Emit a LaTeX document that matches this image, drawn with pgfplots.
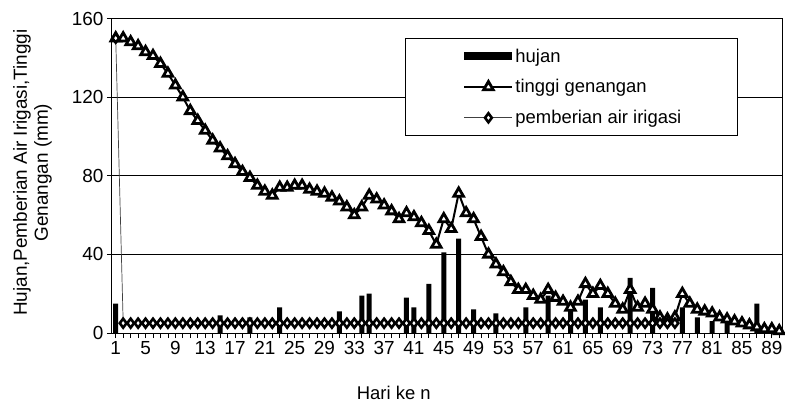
\documentclass[border=0pt]{standalone}
\usepackage{fontspec}
\setmainfont{Liberation Sans}
\usepackage{pgfplots}
\pgfplotsset{compat=1.18}
\pgfplotsset{
  mylegline/.style={legend image code/.code={\path (0bp,0bp); \draw[mark repeat=2, mark phase=2, ##1] plot coordinates {(56bp,0bp) (80bp,0bp) (104bp,0bp)};}},
  mylegbar/.style={legend image code/.code={\path (0bp,0bp); \fill[black] (56bp,-4bp) rectangle (104bp,4bp);}},
}
\begin{document}
\begin{tikzpicture}
\begin{axis}[
  scale only axis, width=671bp, height=314.5bp,
  xmin=0.5, xmax=90.5, ymin=0, ymax=160,
  ytick={0,40,80,120,160},
  xtick={1,5,...,89},
  minor xtick={1,...,90},
  tick align=outside,
  major tick length=5bp, minor tick length=5bp,
  ymajorgrids, grid style={black, line width=0.8bp},
  axis line style={black, line width=1bp},
  tick style={black, line width=0.8bp},
  xtick pos=bottom, ytick pos=left,
  /pgf/number format/assume math mode=true,
  tick label style={font=\fontsize{19}{19}\selectfont},
  xlabel={Hari ke n},
  xlabel style={font=\fontsize{18.5}{18.5}\selectfont, at={(axis description cs:0.42,-0.19)}, anchor=center},
  ylabel={Hujan,Pemberian Air Irigasi,Tinggi\\Genangan (mm)},
  ylabel style={font=\fontsize{19}{21}\selectfont, align=center, at={(axis description cs:-0.1185,0.51)}, anchor=center},
  legend style={at={(axis description cs:0.4367,0.937)}, anchor=north west, draw=black, line width=0.8bp,
    font=\fontsize{18.5}{18.5}\selectfont, row sep=12bp, inner xsep=2bp, inner ysep=8bp},
  legend cell align=left,
]
\addplot[ybar, bar width=5bp, fill=black, draw=none, mylegbar]
  coordinates {(1,15) (15,9) (19,8) (23,13) (31,11) (34,19) (35,20) (40,18) (41,13) (43,25) (45,41) (47,48) (49,12) (52,10) (56,13) (59,19) (62,12) (64,17) (66,13) (70,28) (73,23) (77,13) (79,8) (81,6) (83,6) (87,15)};
\addlegendentry{hujan}
\addplot[black, line width=2bp, mark=triangle*, mark size=5.5bp, mark options={solid, fill=white, draw=black, line width=2.8bp}, mylegline]
  coordinates {(1,150) (2,150) (3,148) (4,146) (5,143) (6,141) (7,137) (8,132) (9,126) (10,120)
  (11,113) (12,108) (13,103) (14,98) (15,94) (16,90) (17,86) (18,82) (19,79) (20,75)
  (21,72) (22,70) (23,74) (24,74) (25,75) (26,75) (27,73) (28,72) (29,71) (30,69)
  (31,67) (32,64) (33,60) (34,64) (35,70) (36,68) (37,65) (38,62) (39,58) (40,61)
  (41,59) (42,56) (43,52) (44,45) (45,58) (46,53) (47,71) (48,61) (49,58) (50,49)
  (51,40) (52,35) (53,31) (54,26) (55,22) (56,22) (57,19) (58,17) (59,22) (60,18)
  (61,16) (62,13) (63,16) (64,25) (65,20) (66,24) (67,20) (68,15) (69,12) (70,22)
  (71,13) (72,15) (73,12) (74,8) (75,7) (76,8) (77,20) (78,15) (79,12) (80,11)
  (81,10) (82,8) (83,7) (84,6) (85,5) (86,4) (87,3) (88,2) (89,2) (90,1)};
\addlegendentry{tinggi genangan}
\addplot[black!75, line width=0.7bp, mark=diamond*, mark size=4.5bp, mark options={solid, fill=white, draw=black, line width=2.6bp}, mylegline]
  coordinates {(1,150) (2,5) (3,5) (4,5) (5,5) (6,5) (7,5) (8,5) (9,5) (10,5)
  (11,5) (12,5) (13,5) (14,5) (15,5) (16,5) (17,5) (18,5) (19,5) (20,5)
  (21,5) (22,5) (23,5) (24,5) (25,5) (26,5) (27,5) (28,5) (29,5) (30,5)
  (31,5) (32,5) (33,5) (34,5) (35,5) (36,5) (37,5) (38,5) (39,5) (40,5)
  (41,5) (42,5) (43,5) (44,5) (45,5) (46,5) (47,5) (48,5) (49,5) (50,5)
  (51,5) (52,5) (53,5) (54,5) (55,5) (56,5) (57,5) (58,5) (59,5) (60,5)
  (61,5) (62,5) (63,5) (64,5) (65,5) (66,5) (67,5) (68,5) (69,5) (70,5)
  (71,5) (72,5) (73,5) (74,5) (75,5) (76,5)};
\addlegendentry{\makebox[218bp][l]{pemberian air irigasi}}
\end{axis}
\pgfresetboundingbox
\path (-112bp,-74bp) rectangle (673bp,333bp);
\end{tikzpicture}
\end{document}
